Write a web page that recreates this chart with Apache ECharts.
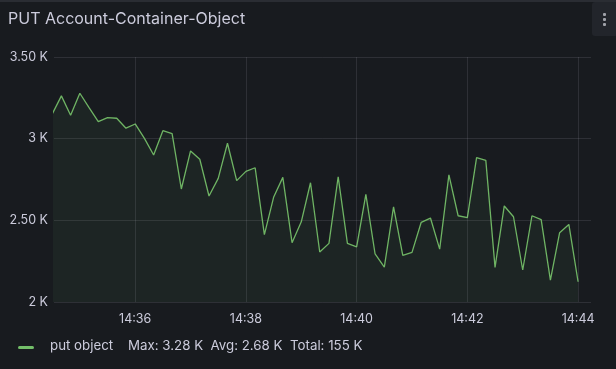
<!DOCTYPE html>
<html>
<head>
<meta charset="utf-8">
<script src="https://cdn.jsdelivr.net/npm/echarts@6/dist/echarts.min.js"></script>
<style>
html,body{margin:0;padding:0;background:#181b1f;}
#wrap{position:relative;width:616px;height:369px;background:#181b1f;overflow:hidden;}
#chart{position:absolute;left:0;top:0;width:616px;height:369px;}
#topline{position:absolute;left:0;top:0;width:616px;height:2px;background:#2a2d33;}
#menu{position:absolute;left:592px;top:2px;width:26px;height:34px;background:#22252b;border-radius:3px;}
.dot{position:absolute;left:11px;width:3px;height:3px;background:#9fa1a8;border-radius:1px;}
</style>
</head>
<body>
<div id="wrap">
<div id="chart"></div>
<div id="topline"></div>
<div id="menu"><div class="dot" style="top:11px"></div><div class="dot" style="top:16px"></div><div class="dot" style="top:21px"></div></div>
</div>
<script>
// Data: 10-second samples starting 14:34:30
const startTime = "2024-01-01T14:34:30";
const stepSeconds = 10;
const putObject = [
  3.150, 3.262, 3.143, 3.278, 3.190, 3.104, 3.129, 3.125, 3.064, 3.090,
  3.002, 2.900, 3.049, 3.031, 2.692, 2.925, 2.874, 2.649, 2.757, 2.972,
  2.743, 2.800, 2.822, 2.412, 2.641, 2.763, 2.363, 2.491, 2.730, 2.306,
  2.359, 2.767, 2.359, 2.338, 2.659, 2.294, 2.214, 2.583, 2.285, 2.304,
  2.488, 2.514, 2.324, 2.778, 2.528, 2.516, 2.884, 2.867, 2.212, 2.588,
  2.522, 2.196, 2.528, 2.504, 2.134, 2.424, 2.475, 2.124
];
const yTicks = [2, 2.5, 3, 3.5];
const yTickLabels = ["2 K", "2.50 K", "3 K", "3.50 K"];
const xTickLabels = ["14:36", "14:38", "14:40", "14:42", "14:44"];
const xRangeStart = "2024-01-01T14:34:32";
const xRangeEnd = "2024-01-01T14:44:14";
const legendName = "put object";
const legendStats = "Max: 3.28 K  Avg: 2.68 K  Total: 155 K";

const t0 = new Date(startTime).getTime();
const seriesData = putObject.map((v, i) => [t0 + i * stepSeconds * 1000, v]);
const tickTimes = xTickLabels.map(l => new Date("2024-01-01T" + l + ":00").getTime());

const chart = echarts.init(document.getElementById('chart'), null, {renderer: 'canvas'});
const textColor = '#ccccdc';
const gridColor = 'rgba(204,204,220,0.12)';
chart.setOption({
  backgroundColor: '#181b1f',
  animation: false,
  title: {
    text: 'PUT Account-Container-Object',
    left: 8, top: 11, padding: 0,
    textStyle: {color: textColor, fontSize: 16, fontWeight: 400, fontFamily: 'Inter'}
  },
  grid: {left: 54, right: 25, top: 57, bottom: 67, containLabel: false},
  xAxis: {
    type: 'value',
    min: new Date(xRangeStart).getTime(),
    max: new Date(xRangeEnd).getTime(),
    axisLine: {show: false},
    axisTick: {show: false, customValues: tickTimes},
    splitLine: {show: false},
    axisLabel: {
      color: textColor, fontSize: 12.5, fontFamily: 'Inter', margin: 11,
      customValues: tickTimes,
      formatter: function (val) {
        const i = tickTimes.indexOf(val);
        return i >= 0 ? xTickLabels[i] : '';
      }
    }
  },
  yAxis: {
    type: 'value',
    min: 2, max: 3.5, interval: 0.5,
    axisLine: {show: false},
    axisTick: {show: false},
    splitLine: {show: true, lineStyle: {color: gridColor, width: 1}},
    axisLabel: {
      color: textColor, fontSize: 12.5, fontFamily: 'Inter', margin: 6,
      formatter: function (val) {
        const i = yTicks.findIndex(t => Math.abs(t - val) < 1e-6);
        return i >= 0 ? yTickLabels[i] : '';
      }
    }
  },
  legend: {show: false},
  graphic: [
    {type: 'rect', left: 18, top: 346, shape: {width: 16, height: 3, r: 1.5}, style: {fill: '#73bf69'}},
    {type: 'text', left: 50, top: 339, style: {text: legendName, fill: textColor, font: '13.3px Inter'}},
    {type: 'text', left: 128, top: 339, style: {text: legendStats, fill: textColor, font: '13.3px Inter'}}
  ],
  series: [{
    name: 'put object',
    type: 'line',
    data: seriesData,
    showSymbol: false,
    clip: true,
    lineStyle: {color: '#6fb464', width: 1.3},
    itemStyle: {color: '#73bf69'},
    areaStyle: {color: 'rgba(115,191,105,0.09)', origin: 'start'},
    markLine: {
      silent: true,
      symbol: 'none',
      label: {show: false},
      lineStyle: {color: gridColor, type: 'solid', width: 1},
      data: tickTimes.map(t => ({xAxis: t}))
    }
  }]
});
</script>
</body>
</html>
